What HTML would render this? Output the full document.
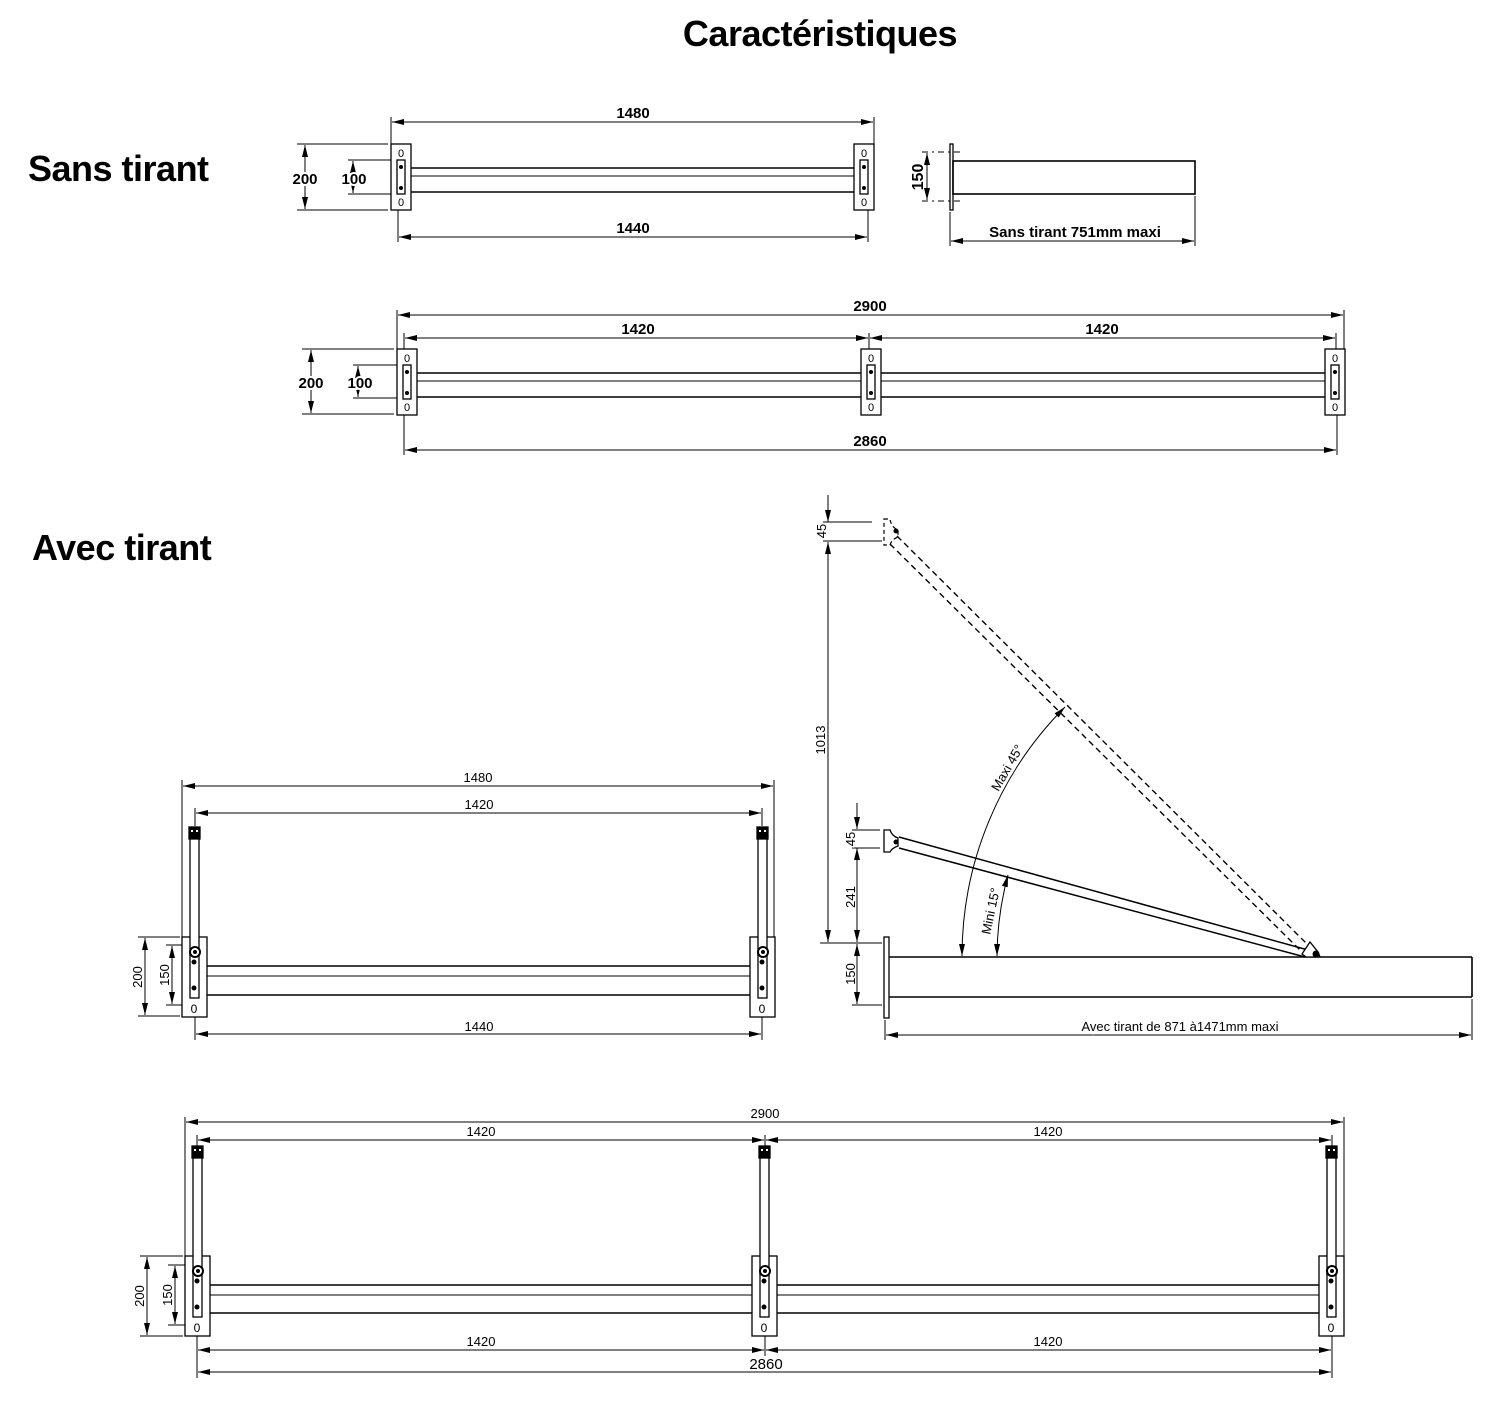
<!DOCTYPE html>
<html><head><meta charset="utf-8"><style>
html,body{margin:0;padding:0;background:#fff;}
svg{display:block;}
.t{font-family:"Liberation Sans",sans-serif;fill:#000;}
.b{font-weight:bold;}
.h{font-family:"Liberation Sans",sans-serif;font-weight:bold;fill:#000;letter-spacing:-0.5px;}
</style></head><body>
<svg width="1500" height="1420" viewBox="0 0 1500 1420" xmlns="http://www.w3.org/2000/svg">
<defs>
<marker id="a" viewBox="0 0 12 6" refX="12" refY="3" markerWidth="12" markerHeight="6" markerUnits="userSpaceOnUse" orient="auto-start-reverse"><path d="M0,0 L12,3 L0,6 Z" fill="#000"/></marker>
<g id="p1" stroke="#000" stroke-width="1.3" fill="#fff">
<rect x="0" y="0" width="20" height="66"/>
<rect x="6" y="16" width="8" height="34"/>
<circle cx="10" cy="23" r="2" fill="#000" stroke="none"/>
<circle cx="10" cy="44" r="2" fill="#000" stroke="none"/>
<text x="10" y="13" font-size="11" text-anchor="middle" stroke="none" fill="#000" font-family="Liberation Sans,sans-serif">0</text>
<text x="10" y="62" font-size="11" text-anchor="middle" stroke="none" fill="#000" font-family="Liberation Sans,sans-serif">0</text>
</g>
<g id="p2" stroke="#000" stroke-width="1.3" fill="#fff">
<rect x="0" y="0" width="25" height="80"/>
<rect x="8" y="-108" width="9" height="126"/>
<rect x="7" y="-110" width="11" height="12" fill="#000"/>
<rect x="9" y="-107" width="2" height="2" fill="#fff" stroke="none"/>
<rect x="14" y="-107" width="2" height="2" fill="#fff" stroke="none"/>
<rect x="8" y="14" width="9" height="47"/>
<circle cx="13" cy="15" r="5" fill="#fff" stroke-width="2"/>
<circle cx="13" cy="15" r="2" fill="#000" stroke="none"/>
<circle cx="12" cy="25" r="2.5" fill="#000" stroke="none"/>
<circle cx="12" cy="51" r="2.5" fill="#000" stroke="none"/>
<text x="12" y="76" font-size="12" text-anchor="middle" stroke="none" fill="#000" font-family="Liberation Sans,sans-serif">0</text>
</g>
</defs>

<text x="820" y="46" class="h" font-size="36" text-anchor="middle">Caractéristiques</text>
<text x="28" y="181" class="h" font-size="36">Sans tirant</text>
<text x="32" y="560" class="h" font-size="36">Avec tirant</text>

<g stroke="#000" stroke-width="1" fill="none">
<line x1="411" y1="168" x2="854" y2="168" stroke-width="1.6"/>
<line x1="411" y1="176" x2="854" y2="176"/>
<line x1="411" y1="192" x2="854" y2="192" stroke-width="1.6"/>
<line x1="391" y1="117" x2="391" y2="144"/><line x1="874" y1="117" x2="874" y2="144"/>
<line x1="392" y1="122" x2="873" y2="122" marker-start="url(#a)" marker-end="url(#a)"/>
<line x1="398" y1="210" x2="398" y2="242"/><line x1="868" y1="210" x2="868" y2="242"/>
<line x1="399" y1="237" x2="867" y2="237" marker-start="url(#a)" marker-end="url(#a)"/>
<line x1="297" y1="144" x2="388" y2="144"/><line x1="297" y1="210" x2="388" y2="210"/>
<line x1="305" y1="145" x2="305" y2="209" marker-start="url(#a)" marker-end="url(#a)"/>
<line x1="348" y1="160" x2="395" y2="160"/><line x1="348" y1="194" x2="395" y2="194"/>
<line x1="353" y1="161" x2="353" y2="193" marker-start="url(#a)" marker-end="url(#a)"/>
</g>
<use href="#p1" x="391" y="144"/><use href="#p1" x="854" y="144"/>
<g class="t b" font-size="15" text-anchor="middle" stroke="#fff" stroke-width="4" paint-order="stroke">
<text x="633" y="118">1480</text><text x="633" y="233">1440</text>
<text x="305" y="184">200</text><text x="354" y="184">100</text>
</g>

<g stroke="#000" fill="none">
<rect x="950" y="144" width="3" height="66" stroke-width="1.3" fill="#fff"/>
<rect x="953" y="161" width="242" height="33" stroke-width="1.6"/>
<line x1="922" y1="152" x2="962" y2="152" stroke-dasharray="6,4,2,4"/>
<line x1="922" y1="201" x2="962" y2="201" stroke-dasharray="6,4,2,4"/>
<line x1="927" y1="153" x2="927" y2="200" marker-start="url(#a)" marker-end="url(#a)"/>
<line x1="950" y1="212" x2="950" y2="246"/><line x1="1195" y1="196" x2="1195" y2="246"/>
<line x1="951" y1="241" x2="1194" y2="241" marker-start="url(#a)" marker-end="url(#a)"/>
</g>
<text class="t b" font-size="16" transform="translate(923,177) rotate(-90)" text-anchor="middle">150</text>
<text class="t b" font-size="15" x="1075" y="237" text-anchor="middle">Sans tirant 751mm maxi</text>

<g stroke="#000" stroke-width="1" fill="none">
<line x1="416" y1="373" x2="1325" y2="373" stroke-width="1.6"/>
<line x1="416" y1="381" x2="1325" y2="381"/>
<line x1="416" y1="397" x2="1325" y2="397" stroke-width="1.6"/>
<line x1="397" y1="310" x2="397" y2="349"/><line x1="1344" y1="310" x2="1344" y2="349"/>
<line x1="398" y1="315" x2="1343" y2="315" marker-start="url(#a)" marker-end="url(#a)"/>
<line x1="404" y1="333" x2="404" y2="365"/><line x1="869" y1="333" x2="869" y2="365"/><line x1="1336" y1="333" x2="1336" y2="365"/>
<line x1="405" y1="338" x2="868" y2="338" marker-start="url(#a)" marker-end="url(#a)"/>
<line x1="870" y1="338" x2="1335" y2="338" marker-start="url(#a)" marker-end="url(#a)"/>
<line x1="404" y1="414" x2="404" y2="455"/><line x1="1337" y1="414" x2="1337" y2="455"/>
<line x1="405" y1="450" x2="1336" y2="450" marker-start="url(#a)" marker-end="url(#a)"/>
<line x1="302" y1="349" x2="394" y2="349"/><line x1="302" y1="414" x2="394" y2="414"/>
<line x1="311" y1="350" x2="311" y2="413" marker-start="url(#a)" marker-end="url(#a)"/>
<line x1="353" y1="365" x2="401" y2="365"/><line x1="353" y1="398" x2="401" y2="398"/>
<line x1="358" y1="366" x2="358" y2="397" marker-start="url(#a)" marker-end="url(#a)"/>
</g>
<use href="#p1" x="397" y="349"/><use href="#p1" x="861" y="349"/><use href="#p1" x="1325" y="349"/>
<g class="t b" font-size="15" text-anchor="middle" stroke="#fff" stroke-width="4" paint-order="stroke">
<text x="870" y="311">2900</text><text x="638" y="334">1420</text><text x="1102" y="334">1420</text>
<text x="870" y="446">2860</text><text x="311" y="388">200</text><text x="360" y="388">100</text>
</g>

<g stroke="#000" stroke-width="1" fill="none">
<line x1="198" y1="966" x2="758" y2="966" stroke-width="1.6"/>
<line x1="198" y1="976" x2="758" y2="976"/>
<line x1="198" y1="995" x2="758" y2="995" stroke-width="1.6"/>
<line x1="182" y1="780" x2="182" y2="937"/><line x1="774" y1="780" x2="774" y2="937"/>
<line x1="183" y1="786" x2="773" y2="786" marker-start="url(#a)" marker-end="url(#a)"/>
<line x1="195" y1="808" x2="195" y2="826"/><line x1="762" y1="808" x2="762" y2="826"/>
<line x1="196" y1="813" x2="761" y2="813" marker-start="url(#a)" marker-end="url(#a)"/>
<line x1="195" y1="1016" x2="195" y2="1040"/><line x1="762" y1="1016" x2="762" y2="1040"/>
<line x1="196" y1="1034" x2="761" y2="1034" marker-start="url(#a)" marker-end="url(#a)"/>
<line x1="138" y1="937" x2="180" y2="937"/><line x1="138" y1="1016" x2="180" y2="1016"/>
<line x1="145" y1="938" x2="145" y2="1015" marker-start="url(#a)" marker-end="url(#a)"/>
<line x1="166" y1="945" x2="192" y2="945"/><line x1="166" y1="1005" x2="192" y2="1005"/>
<line x1="172" y1="946" x2="172" y2="1004" marker-start="url(#a)" marker-end="url(#a)"/>
</g>
<use href="#p2" x="182" y="937"/><use href="#p2" x="750" y="937"/>
<g class="t" font-size="13" text-anchor="middle" stroke="#fff" stroke-width="3" paint-order="stroke">
<text x="478" y="782">1480</text><text x="479" y="809">1420</text><text x="479" y="1031">1440</text>
<text transform="translate(142,977) rotate(-90)">200</text>
<text transform="translate(169,975) rotate(-90)">150</text>
</g>

<g stroke="#000" fill="none" stroke-width="1">
<rect x="884" y="937" width="5" height="81" stroke-width="1.3" fill="#fff"/>
<line x1="889" y1="957" x2="1472" y2="957" stroke-width="1.6"/>
<line x1="889" y1="997" x2="1472" y2="997" stroke-width="1.6"/>
<line x1="1472" y1="957" x2="1472" y2="997" stroke-width="1.6"/>
<line x1="899" y1="837" x2="1308" y2="950" stroke-width="1.5"/>
<line x1="899" y1="848" x2="1305" y2="957" stroke-width="1.5"/>
<path d="M884,830 L890,830 Q892,836 898,838 L898,846 Q892,848 890,852 L884,852 Z" stroke-width="1.3" fill="#fff"/>
<circle cx="896" cy="842" r="2" fill="#000"/>
<path d="M1302,954 L1310,942 L1318,952 L1320,957 L1306,957 Z" stroke-width="1.3" fill="#fff"/>
<circle cx="1316" cy="954" r="3" fill="#000"/>
<line x1="897" y1="536" x2="1307" y2="944" stroke-dasharray="6,4" stroke-width="1.4"/>
<line x1="890" y1="544" x2="1300" y2="950" stroke-dasharray="6,4" stroke-width="1.4"/>
<path d="M884,519 L890,519 Q891,527 898,530 L898,537 Q892,539 890,545 L884,545 Z" stroke-dasharray="4,3" stroke-width="1.2"/>
<circle cx="896" cy="531" r="2" fill="#000"/>
<line x1="823" y1="522" x2="872" y2="522"/><line x1="823" y1="541" x2="882" y2="541"/>
<line x1="828" y1="495" x2="828" y2="522" marker-end="url(#a)"/>
<line x1="828" y1="555" x2="828" y2="542" marker-end="url(#a)"/>
<line x1="828" y1="555" x2="828" y2="942" marker-end="url(#a)"/>
<line x1="820" y1="943" x2="882" y2="943"/>
<line x1="852" y1="830" x2="880" y2="830"/><line x1="852" y1="848" x2="880" y2="848"/>
<line x1="857" y1="803" x2="857" y2="829" marker-end="url(#a)"/>
<line x1="857" y1="848" x2="857" y2="942" marker-start="url(#a)" marker-end="url(#a)"/>
<line x1="857" y1="944" x2="857" y2="1004" marker-start="url(#a)" marker-end="url(#a)"/>
<line x1="852" y1="1005" x2="882" y2="1005"/>
<path d="M962,956 A353,353 0 0 1 1065,707" marker-start="url(#a)" marker-end="url(#a)"/>
<path d="M997,956 A318,318 0 0 1 1008,875" marker-start="url(#a)" marker-end="url(#a)"/>
<line x1="885" y1="1020" x2="885" y2="1040"/><line x1="1472" y1="999" x2="1472" y2="1040"/>
<line x1="886" y1="1035" x2="1471" y2="1035" marker-start="url(#a)" marker-end="url(#a)"/>
</g>
<g class="t" font-size="13" text-anchor="middle" stroke="#fff" stroke-width="3" paint-order="stroke">
<text transform="translate(825,740) rotate(-90)">1013</text>
<text transform="translate(826,531) rotate(-90)">45</text>
<text transform="translate(855,839) rotate(-90)">45</text>
<text transform="translate(855,897) rotate(-90)">241</text>
<text transform="translate(855,974) rotate(-90)">150</text>
<text transform="translate(1011,770) rotate(-60)">Maxi 45°</text>
<text transform="translate(995,912) rotate(-78)">Mini 15°</text>
<text x="1180" y="1031">Avec tirant de 871 à1471mm maxi</text>
</g>

<g stroke="#000" stroke-width="1" fill="none">
<line x1="202" y1="1285" x2="1335" y2="1285" stroke-width="1.6"/>
<line x1="202" y1="1295" x2="1335" y2="1295"/>
<line x1="202" y1="1313" x2="1335" y2="1313" stroke-width="1.6"/>
<line x1="185" y1="1117" x2="185" y2="1256"/><line x1="1344" y1="1117" x2="1344" y2="1256"/>
<line x1="186" y1="1122" x2="1343" y2="1122" marker-start="url(#a)" marker-end="url(#a)"/>
<line x1="197" y1="1135" x2="197" y2="1147"/><line x1="765" y1="1135" x2="765" y2="1147"/><line x1="1332" y1="1135" x2="1332" y2="1147"/>
<line x1="198" y1="1140" x2="764" y2="1140" marker-start="url(#a)" marker-end="url(#a)"/>
<line x1="766" y1="1140" x2="1331" y2="1140" marker-start="url(#a)" marker-end="url(#a)"/>
<line x1="197" y1="1336" x2="197" y2="1378"/><line x1="765" y1="1336" x2="765" y2="1356"/><line x1="1332" y1="1336" x2="1332" y2="1378"/>
<line x1="198" y1="1350" x2="764" y2="1350" marker-start="url(#a)" marker-end="url(#a)"/>
<line x1="766" y1="1350" x2="1331" y2="1350" marker-start="url(#a)" marker-end="url(#a)"/>
<line x1="198" y1="1372" x2="1331" y2="1372" marker-start="url(#a)" marker-end="url(#a)"/>
<line x1="140" y1="1256" x2="183" y2="1256"/><line x1="140" y1="1336" x2="183" y2="1336"/>
<line x1="147" y1="1257" x2="147" y2="1335" marker-start="url(#a)" marker-end="url(#a)"/>
<line x1="168" y1="1265" x2="195" y2="1265"/><line x1="168" y1="1325" x2="195" y2="1325"/>
<line x1="175" y1="1266" x2="175" y2="1324" marker-start="url(#a)" marker-end="url(#a)"/>
</g>
<use href="#p2" x="185" y="1256"/><use href="#p2" x="752" y="1256"/><use href="#p2" x="1319" y="1256"/>
<g class="t" font-size="13" text-anchor="middle" stroke="#fff" stroke-width="3" paint-order="stroke">
<text x="765" y="1118">2900</text><text x="481" y="1136">1420</text><text x="1048" y="1136">1420</text>
<text x="481" y="1346">1420</text><text x="1048" y="1346">1420</text>
<text x="766" y="1369" font-size="15">2860</text>
<text transform="translate(144,1296) rotate(-90)">200</text>
<text transform="translate(172,1295) rotate(-90)">150</text>
</g>
</svg>
</body></html>
